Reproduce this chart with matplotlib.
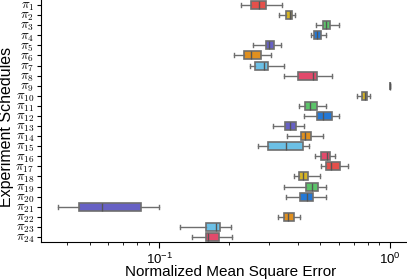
import matplotlib
matplotlib.use("Agg")
import matplotlib.pyplot as plt
import numpy as np

plt.rcParams["mathtext.fontset"] = "cm"
plt.rcParams["font.family"] = ["Liberation Sans", "DejaVu Sans"]

# 실험 스케줄 (위에서 아래로)
labels = [r"$\pi_{%d}$" % i for i in range(1, 25)]

# 박스 통계값
whislo = [0.226, 0.332, 0.477, 0.454, 0.254, 0.211, 0.248, 0.349, 1.0, 0.718,
          0.403, 0.426, 0.311, 0.357, 0.269, 0.472, 0.501, 0.385, 0.349, 0.355,
          0.0364, 0.328, 0.123, 0.139]
q1 = [0.250, 0.356, 0.511, 0.470, 0.291, 0.233, 0.261, 0.399, 1.0, 0.759,
      0.427, 0.482, 0.351, 0.413, 0.296, 0.504, 0.530, 0.405, 0.432, 0.409,
      0.0452, 0.347, 0.159, 0.160]
med = [0.270, 0.369, 0.528, 0.484, 0.300, 0.251, 0.285, 0.463, 1.0, 0.777,
       0.451, 0.511, 0.369, 0.430, 0.354, 0.532, 0.557, 0.419, 0.458, 0.436,
       0.0565, 0.363, 0.176, 0.163]
q3 = [0.291, 0.378, 0.548, 0.501, 0.314, 0.275, 0.296, 0.484, 1.0, 0.793,
      0.484, 0.563, 0.392, 0.455, 0.419, 0.552, 0.607, 0.443, 0.489, 0.464,
      0.0834, 0.383, 0.184, 0.182]
whishi = [0.341, 0.389, 0.603, 0.530, 0.338, 0.306, 0.349, 0.563, 1.0, 0.822,
          0.530, 0.603, 0.426, 0.514, 0.448, 0.580, 0.656, 0.498, 0.530, 0.530,
          0.1003, 0.407, 0.204, 0.206]

# 8색 팔레트 반복
palette = ["#e4504b", "#d6b424", "#5cc46a", "#2478d6",
           "#6761c4", "#e0901f", "#6cc0e6", "#e24a6b"]

stats = []
for i in range(len(labels)):
    stats.append({"whislo": whislo[i], "q1": q1[i], "med": med[i],
                  "q3": q3[i], "whishi": whishi[i], "fliers": []})

fig = plt.figure(figsize=(4.07, 2.79), dpi=100)
ax = fig.add_axes([41 / 407, 37 / 279, 366 / 407, 242 / 279])

pos = np.arange(len(labels))
bp = ax.bxp(stats, positions=pos, widths=0.8, orientation="horizontal",
            patch_artist=True, manage_ticks=False,
            boxprops=dict(edgecolor="#6e6e6e", linewidth=1.2),
            whiskerprops=dict(color="#6e6e6e", linewidth=1.0),
            capprops=dict(color="#6e6e6e", linewidth=1.0),
            medianprops=dict(color="#555555", linewidth=1.0))
for i, b in enumerate(bp["boxes"]):
    b.set_facecolor(palette[i % len(palette)])

ax.set_xscale("log")
ax.set_xlim(0.0308, 1.185)
ax.set_ylim(len(labels) - 0.5, -0.5)
ax.set_yticks(pos)
ax.set_yticklabels(labels)

ax.spines["top"].set_visible(False)
ax.spines["right"].set_visible(False)
ax.tick_params(axis="y", length=3, labelsize=9.5, pad=2)
ax.tick_params(axis="x", which="major", length=4, labelsize=9.5, pad=3)
ax.tick_params(axis="x", which="minor", length=2)

ax.set_xlabel("Normalized Mean Square Error", fontsize=11)
ax.xaxis.set_label_coords(0.518, -0.093)
ax.set_ylabel("Experiment Schedules", fontsize=11.5)
ax.yaxis.set_label_coords(-0.075, 0.477)

fig.savefig("out.png", dpi=100)
